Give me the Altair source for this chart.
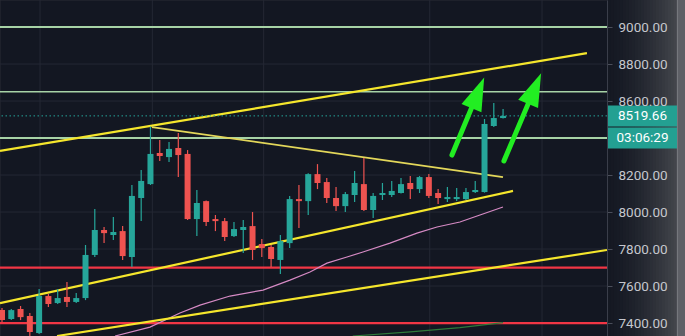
import altair as alt
import pandas as pd

# ---------------- data ----------------
opens = [7470, 7422, 7476, 7438, 7346, 7546, 7508, 7541, 7514, 7535,
         7768, 7903, 7876, 7897, 7757, 8076, 8151, 8319, 8297, 8346,
         8314, 7962, 8059, 7962, 7951, 7870, 7903, 7924, 7827, 7811,
         7741, 7832, 8070, 8059, 8205, 8162, 8076, 8032, 8092, 8151,
         8011, 8092, 8092, 8103, 8157, 8124, 8189, 8103, 8070, 8070,
         8070, 8108, 8108, 8465, 8508]
highs = [7481, 7476, 7492, 7454, 7584, 7557, 7584, 7622, 7562, 7822,
         8016, 7919, 7973, 7924, 8146, 8227, 8462, 8389, 8378, 8427,
         8335, 8119, 8062, 7984, 7968, 7946, 7957, 8000, 7854, 7822,
         7876, 8087, 8146, 8210, 8259, 8184, 8135, 8108, 8222, 8292,
         8103, 8157, 8168, 8184, 8195, 8195, 8205, 8124, 8135, 8130,
         8130, 8168, 8503, 8589, 8557]
lows = [7405, 7416, 7416, 7308, 7341, 7487, 7503, 7487, 7508, 7524,
        7757, 7832, 7849, 7741, 7703, 7951, 8146, 8276, 8270, 8189,
        7957, 7870, 7924, 7897, 7843, 7865, 7778, 7741, 7757, 7703,
        7665, 7805, 7914, 7984, 8124, 8049, 8005, 8000, 8054, 8005,
        7968, 8065, 8081, 8100, 8070, 8103, 8076, 8043, 8054, 8059,
        8065, 8103, 8105, 8459, 8505]
closes = [7416, 7470, 7432, 7351, 7546, 7503, 7535, 7514, 7535, 7768,
          7903, 7886, 7892, 7762, 8087, 8168, 8314, 8303, 8341, 8308,
          7962, 8049, 7946, 7951, 7865, 7908, 7919, 7795, 7805, 7746,
          7843, 8070, 8059, 8205, 8157, 8076, 8032, 8097, 8157, 8011,
          8087, 8103, 8114, 8151, 8124, 8189, 8087, 8076, 8081, 8081,
          8108, 8119, 8476, 8508, 8519.66]

price_ticks = [7400, 7600, 7800, 8000, 8200, 8600, 8800, 9000]
grid_levels = [7400, 7600, 7800, 8000, 8200, 8400, 8600, 8800, 9000]
time_grid = [4.1, 16.2, 28.2, 46.1, 58.2]

red_levels = [7400, 7700]
green_levels = [8400, 8650, 9000]

trend_names = ["upper", "upper", "falling", "falling",
               "rising", "rising", "lower", "lower"]
trend_idx = [-0.2155, 63.04, 16.16, 53.99, -0.2155, 55.07, 5.93, 65.2]
trend_price = [8330, 8859, 8459, 8189, 7508, 8114, 7330, 7795]

ma_pink_idx = [12.18, 15.95, 19.18, 21.34, 24.57, 28.13, 31.03, 33.19, 35.02,
               37.18, 38.9, 41.81, 44.72, 46.88, 49.35, 51.51, 53.99]
ma_pink_price = [7330, 7378, 7454, 7497, 7546, 7578, 7632, 7676, 7724,
                 7757, 7784, 7832, 7886, 7919, 7946, 7984, 8027]
ma_green_idx = [37.8, 44.0, 49.35, 54.0]
ma_green_price = [7330, 7352, 7375, 7402]

arrow_start_idx = [48.49, 54.09]
arrow_start_price = [8308, 8276]
arrow_head_idx = [51.28, 57.40]
arrow_head_price = [8644, 8667]
arrow_angle = [22.6, 23.0]

last_price = 8519.66
timer_text = "03:06:29"

# ---------------- layout / styles ----------------
W, H, FULL_W = 607, 336, 685
X_DOMAIN = [-0.2155, 65.2]
Y_DOMAIN = [7330, 9146]
BG = "#131722"
PANEL_BG = "#2a2c34"
GRID = "#242834"
UP, DOWN = "#26a69a", "#ef5350"
YELLOW = "#f5e62c"
FONT = "Roboto"

xs = alt.Scale(domain=X_DOMAIN, nice=False, zero=False, padding=0)
ys = alt.Scale(domain=Y_DOMAIN, nice=False, zero=False, padding=0)

y_axis = alt.Axis(orient="right", values=price_ticks, format=".2f",
                  labelFont=FONT, labelFontSize=13.5, labelColor="#c5c7cd",
                  tickColor="#4a4e5a", tickSize=5, domainColor="#3a3e4a",
                  labelPadding=6, grid=False, title=None, zindex=1,
                  labelOverlap=False, labelFlush=False)


def X(f="i"):
    return alt.X(f"{f}:Q", scale=xs, axis=None)


def Y(f="v"):
    return alt.Y(f"{f}:Q", scale=ys, axis=y_axis, title=None)


candles = pd.DataFrame({"i": list(range(len(opens))), "o": opens, "h": highs,
                        "l": lows, "c": closes})
candles["col"] = [UP if c >= o else DOWN for o, c in zip(opens, closes)]


# --- shaded price-scale panel on the right (screen-photo shading) ---
def lerp_hex(a, b, t):
    a = [int(a[k:k + 2], 16) for k in (1, 3, 5)]
    b = [int(b[k:k + 2], 16) for k in (1, 3, 5)]
    return "#" + "".join(f"{round(x + (y - x) * t):02x}" for x, y in zip(a, b))


edge = 677
strip_w = 3
strips = []
for px in range(W + 1, edge, strip_w):
    t = ((px - W) / (edge - W)) ** 1.6
    strips.append((px + strip_w / 2, strip_w + 0.6, lerp_hex("#151923", "#46484e", t)))
strips.append((edge + 0.5, 1.2, "#8e9095"))
strips.append(((edge + 1 + FULL_W) / 2, FULL_W - edge, "#5e6066"))
span_df = pd.DataFrame({"lo": [Y_DOMAIN[0]], "hi": [Y_DOMAIN[1]]})
panel = [
    alt.Chart(span_df).mark_rule(color=c, strokeWidth=sw).encode(
        x=alt.value(xc), y=Y("lo"), y2="hi:Q")
    for xc, sw, c in strips
]

vgrid = alt.Chart(pd.DataFrame({"i": time_grid})).mark_rule(
    color=GRID, strokeWidth=1).encode(x=X())
hgrid = alt.Chart(pd.DataFrame({"v": grid_levels})).mark_rule(
    color=GRID, strokeWidth=1).encode(y=Y())

lv = pd.DataFrame({"v": red_levels + green_levels,
                   "col": ["#f23645"] * len(red_levels) + ["#a7d3a6"] * len(green_levels),
                   "w": [2.2] * len(red_levels) + [2.0, 1.6, 2.2]})
levels = alt.Chart(lv).mark_rule().encode(
    y=Y(), color=alt.Color("col:N", scale=None),
    strokeWidth=alt.StrokeWidth("w:Q", scale=None))

style = {"upper": (YELLOW, 2.2), "falling": ("#e3d75a", 1.8),
         "rising": (YELLOW, 2.2), "lower": (YELLOW, 2.2)}
tr = pd.DataFrame({"name": trend_names, "i": trend_idx, "v": trend_price})
tr["col"] = [style[n][0] for n in trend_names]
tr["w"] = [style[n][1] for n in trend_names]
trends = alt.Chart(tr).mark_line(clip=True).encode(
    x=X(), y=Y(), detail="name:N", color=alt.Color("col:N", scale=None),
    strokeWidth=alt.StrokeWidth("w:Q", scale=None))

ma1 = alt.Chart(pd.DataFrame({"i": ma_pink_idx, "v": ma_pink_price})).mark_line(
    color="#d68ac4", strokeWidth=1.2, clip=True).encode(x=X(), y=Y())
ma2 = alt.Chart(pd.DataFrame({"i": ma_green_idx, "v": ma_green_price})).mark_line(
    color="#2f7a3a", strokeWidth=1.2, clip=True).encode(x=X(), y=Y())

wicks = alt.Chart(candles).mark_rule(strokeWidth=1.2, clip=True).encode(
    x=X(), y=Y("l"), y2="h:Q", color=alt.Color("col:N", scale=None))
bodies = alt.Chart(candles).mark_bar(size=6, clip=True).encode(
    x=X(), y=Y("o"), y2="c:Q", color=alt.Color("col:N", scale=None))

price_line = alt.Chart(pd.DataFrame({"v": [last_price]})).mark_rule(
    color=UP, strokeDash=[1.5, 2.5], strokeWidth=1).encode(y=Y())

ar = pd.DataFrame({"id": [0, 1, 0, 1],
                   "i": arrow_start_idx + arrow_head_idx,
                   "v": arrow_start_price + arrow_head_price})
ARROW = "#22ee22"
shafts = alt.Chart(ar).mark_line(color=ARROW, strokeWidth=5, strokeCap="round").encode(
    x=X(), y=Y(), detail="id:N")
heads = alt.Chart(pd.DataFrame({"i": arrow_head_idx, "v": arrow_head_price,
                                "a": arrow_angle})).mark_point(
    shape="M0,-1L0.65,1L-0.65,1Z", filled=True, size=1100, color=ARROW, opacity=1,
    strokeWidth=0).encode(x=X(), y=Y(), angle=alt.Angle("a:Q", scale=None))

ppu = H / (Y_DOMAIN[1] - Y_DOMAIN[0])
half = 10.5 / ppu
gap = 1.0 / ppu
box_mid = [last_price, last_price - 2 * half - gap]
boxes_df = pd.DataFrame({"t": [f"{last_price:.2f}", timer_text],
                         "mid": box_mid,
                         "lo": [m - half for m in box_mid],
                         "hi": [m + half for m in box_mid]})
boxes = alt.Chart(boxes_df).mark_rect(color="#23a092").encode(
    x=alt.value(W + 1), x2=alt.value(edge), y=Y("lo"), y2="hi:Q")
box_text = alt.Chart(boxes_df).mark_text(
    color="#ffffff", font=FONT, fontSize=13.5, align="center", baseline="middle").encode(
    x=alt.value(642.5), y=Y("mid"), text="t:N")

chart = alt.layer(
    vgrid, hgrid, levels, ma2, ma1, trends, wicks, bodies, price_line,
    shafts, heads, *panel, boxes, box_text
).properties(
    width=W, height=H,
    padding={"left": 0, "top": 0, "right": FULL_W - W, "bottom": 0},
    autosize=alt.AutoSizeParams(type="none"),
    background=PANEL_BG,
).configure_view(stroke="transparent", fill=BG)

chart.save("out.html", embed_options={"renderer": "svg", "actions": False})
